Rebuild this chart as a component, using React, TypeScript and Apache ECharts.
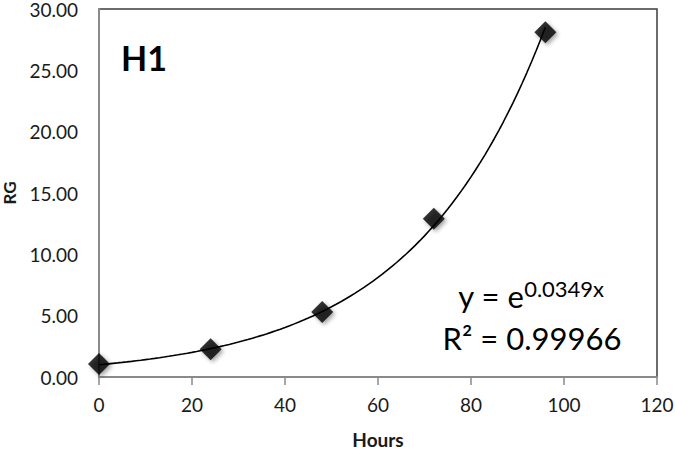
import React, { useEffect, useRef } from "react";
import * as echarts from "echarts";

const hours = [0, 24, 48, 72, 96];
const rg = [1.05, 2.27, 5.3, 12.9, 28.1];
const trendK = 0.0349;
const r2Label = "0.99966";
const xTicks = { min: 0, max: 120, interval: 20 };
const yTicks = { min: 0, max: 30, interval: 5 };

export default function App() {
  const ref = useRef<HTMLDivElement>(null);
  useEffect(() => {
    const chart = echarts.init(ref.current!, null, { renderer: "svg" });
    const trend: number[][] = [];
    for (let x = hours[0]; x <= hours[hours.length - 1]; x += 1) {
      trend.push([x, Math.exp(trendK * x)]);
    }
    const font = "Lato, 'Open Sans', sans-serif";
    chart.setOption({
      animation: false,
      backgroundColor: "#ffffff",
      grid: {
        left: 99,
        right: 18,
        top: 9,
        bottom: 73,
        show: true,
        containLabel: false,
        outerBoundsMode: "none",
        borderColor: "#3c3c3c",
        borderWidth: 1.5,
        backgroundColor: "transparent",
      },
      xAxis: {
        type: "value",
        min: xTicks.min,
        max: xTicks.max,
        interval: xTicks.interval,
        name: "Hours",
        nameLocation: "middle",
        nameGap: 53,
        nameTextStyle: { fontFamily: font, fontWeight: "bold", fontSize: 19, lineHeight: 18, color: "#1a1a1a" },
        axisLine: { show: true, lineStyle: { color: "#8a8a8a", width: 2 } },
        axisTick: { show: true, length: 8, lineStyle: { color: "#8a8a8a", width: 1.5 } },
        axisLabel: { fontFamily: font, fontSize: 19, color: "#1a1a1a", margin: 18 },
        splitLine: { show: false },
      },
      yAxis: {
        type: "value",
        min: yTicks.min,
        max: yTicks.max,
        interval: yTicks.interval,
        name: "RG",
        nameLocation: "middle",
        nameGap: 81,
        nameRotate: 90,
        nameTextStyle: { fontFamily: font, fontWeight: "bold", fontSize: 17, lineHeight: 17, color: "#1a1a1a" },
        axisLine: { show: true, lineStyle: { color: "#8a8a8a", width: 2 } },
        axisTick: { show: false },
        axisLabel: {
          fontFamily: font,
          fontSize: 19,
          lineHeight: 14,
          color: "#1a1a1a",
          margin: 21,
          formatter: (v: number) => v.toFixed(2),
        },
        splitLine: { show: false },
      },
      graphic: [
        {
          type: "text",
          left: 121,
          top: 40,
          style: { text: "H1", font: `bold 34px ${font}`, fill: "#000" },
        },
        {
          type: "text",
          x: 531,
          y: 296,
          style: {
            text: "{b|y = e}{s|0.0349x}",
            align: "center",
            verticalAlign: "middle",
            rich: {
              b: { fontFamily: font, fontSize: 31, fill: "#000", color: "#000" },
              s: { fontFamily: font, fontSize: 22, fill: "#000", color: "#000", verticalAlign: "top", padding: [0, 0, 16, 0] },
            },
          },
        },
        {
          type: "text",
          x: 532,
          y: 338,
          style: {
            text: `R² = ${r2Label}`,
            align: "center",
            verticalAlign: "middle",
            font: `31px ${font}`,
            fill: "#000",
          },
        },
      ],
      series: [
        {
          type: "line",
          data: trend,
          showSymbol: false,
          symbol: "none",
          lineStyle: { color: "#000", width: 1.6 },
          z: 2,
        },
        {
          type: "scatter",
          data: hours.map((h, i) => [h, rg[i]]),
          symbol: "diamond",
          symbolSize: [22, 22],
          itemStyle: {
            color: "#000",
            shadowBlur: 4,
            shadowColor: "rgba(0,0,0,0.45)",
            shadowOffsetX: 2,
            shadowOffsetY: 2,
          },
          z: 3,
        },
      ],
    });
    return () => chart.dispose();
  }, []);
  return <div ref={ref} style={{ width: 675, height: 450, position: "absolute", left: 0, top: 0 }} />;
}
